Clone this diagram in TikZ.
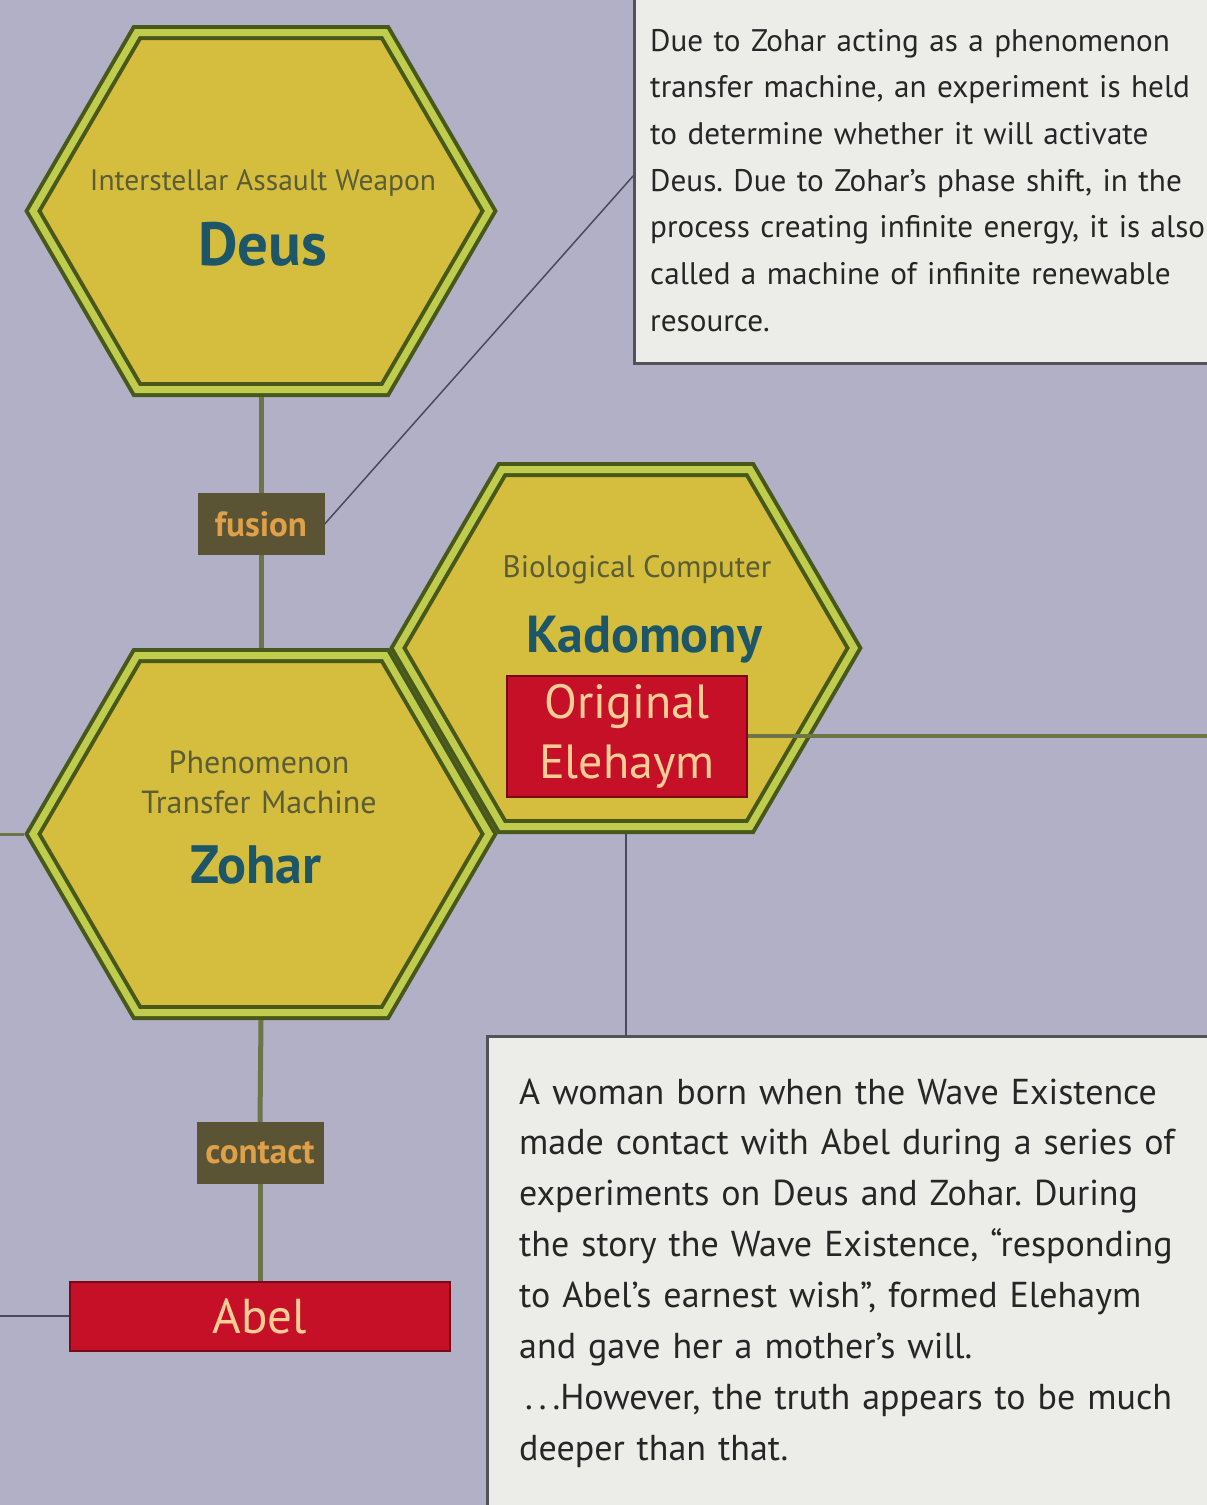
\documentclass[tikz,border=0pt]{standalone}
\usepackage{fontspec}
\setmainfont{PT Sans}
\usepackage{tikz}
\definecolor{bgpaper}{RGB}{178,176,198}
\definecolor{hexfill}{RGB}{213,190,62}
\definecolor{hexdark}{RGB}{72,88,26}
\definecolor{hexlight}{RGB}{192,204,78}
\definecolor{titleteal}{RGB}{28,86,104}
\definecolor{tagolive}{RGB}{92,92,54}
\definecolor{linkfill}{RGB}{90,84,52}
\definecolor{linktext}{RGB}{222,160,72}
\definecolor{namered}{RGB}{198,16,40}
\definecolor{nameedge}{RGB}{120,10,22}
\definecolor{nametext}{RGB}{255,206,150}
\definecolor{stem}{RGB}{108,116,72}
\definecolor{notepaper}{RGB}{236,236,232}
\definecolor{noteedge}{RGB}{82,82,88}
\definecolor{thinline}{RGB}{72,74,94}

\frenchspacing

\tikzset{
  hexa/.style={rectangle, minimum width=474pt, minimum height=372pt, inner sep=0pt, outer sep=0pt},
  hexline/.style={fill=hexfill, draw=hexdark, line width=4pt, double=hexlight, double distance=7pt},
  tag/.style={text=tagolive},
  title/.style={text=titleteal, font=\fontsize{52}{52}\selectfont\bfseries},
  linkbox/.style={fill=linkfill, text=linktext, minimum width=127pt, minimum height=62pt,
    font=\fontsize{35}{35}\selectfont\bfseries},
  namebox/.style={fill=namered, draw=nameedge, line width=2pt, text=nametext},
  notebox/.style={fill=notepaper, draw=noteedge, line width=3pt, outer sep=0pt},
  notetext/.style={text=black!85, align=left, inner sep=0pt},
  stemline/.style={draw=stem, line width=5pt},
}

% hexagon with a double border round a named node
\newcommand{\hexcell}[1]{%
  \draw[hexline] ([shift={(-228,0)}]#1.center) -- ([shift={(-124,-178.5)}]#1.center)
    -- ([shift={(124,-178.5)}]#1.center) -- ([shift={(228,0)}]#1.center)
    -- ([shift={(124,178.5)}]#1.center) -- ([shift={(-124,178.5)}]#1.center) -- cycle;}

\begin{document}
\begin{tikzpicture}[x=1pt, y=-1pt]
  \useasboundingbox (0,0) rectangle (1207,1505);
  \clip (0,0) rectangle (1207,1505);
  \fill[bgpaper] (0,0) rectangle (1207,1505);
  \coordinate (leftedge) at (0,0);
  \coordinate (rightedge) at (1207,0);

  % note boxes
  \node[notebox, minimum width=800pt, minimum height=376pt, anchor=south west] (upperbox) at (634,363) {};
  \node[notebox, minimum width=800pt, minimum height=600pt, anchor=north west] (lowerbox) at (487,1036) {};

  % hexes
  \node[hexa] (deus) at (261,211) {};
  \hexcell{deus}
  \node[hexa] (zohar) at (261,834) {};
  \hexcell{zohar}
  \node[hexa] (kadomony) at (626,648) {};
  \hexcell{kadomony}

  \node[tag, anchor=base, font=\fontsize{29.5}{29.5}\selectfont] (deustag) at (263,190) {Interstellar Assault Weapon};
  \node[title, anchor=base, font=\fontsize{61}{61}\selectfont\bfseries] (deusname) at (263,265) {Deus};
  \node[tag, anchor=base, font=\fontsize{31}{31}\selectfont] (kadotag) at (637,577) {Biological Computer};
  \node[title, anchor=base] (kadoname) at (644,652) {Kadomony};
  \node[tag, anchor=base, align=center, text width=300pt, font=\fontsize{32}{40}\selectfont] (zohartag) at (259,773) {Phenomenon\\Transfer Machine};
  \node[title, anchor=base, font=\fontsize{54}{54}\selectfont\bfseries] (zoharname) at (256,883) {Zohar};

  % links
  \node[linkbox] (fusion) at (261,524) {fusion};
  \node[linkbox] (contact) at (260,1153) {contact};
  \node[namebox, minimum width=380pt, minimum height=69pt, font=\fontsize{49}{49}\selectfont] (abel) at (260,1316) {Abel};
  \node[namebox, minimum width=240pt, minimum height=121pt, align=center,
    font=\fontsize{48}{60}\selectfont] (elehaym) at (627,736) {Original\\Elehaym};

  \draw[stemline] (deus.south) -- (fusion.north);
  \draw[stemline] (fusion.south) -- (zohar.north);
  \draw[stemline] (zohar.south) -- (contact.north);
  \draw[stemline] (contact.south) -- (abel.north);
  \draw[stem, line width=3pt] (zohar.west) -- (zohar.west -| leftedge);
  \draw[thinline, line width=2pt] (abel.west) -- (abel.west -| leftedge);
  \draw[stem, line width=4pt] (elehaym.east) -- (elehaym.east -| rightedge);
  \draw[thinline, line width=1.5pt] (fusion.east) -- (upperbox.west);
  \draw[thinline, line width=2.5pt] (kadomony.south) -- (kadomony.south |- lowerbox.north);

  % note texts
  \node[notetext, anchor=base west, text width=620pt, font=\fontsize{31.2}{46.7}\selectfont] (uppertext) at (650,51)
    {Due to Zohar acting as a phenomenon\\
     transfer machine, an experiment is held\\
     to determine whether it will activate\\
     Deus. Due to Zohar’s phase shift, in the\\
     process creating infinite energy, it is also\\
     called a machine of infinite renewable\\
     resource.};
  \node[notetext, anchor=base west, text width=700pt, font=\fontsize{36}{50.9}\selectfont] (lowertext) at (519,1104)
    {A woman born when the Wave Existence\\
     made contact with Abel during a series of\\
     experiments on Deus and Zohar. During\\
     the story the Wave Existence, “responding\\
     to Abel’s earnest wish”, formed Elehaym\\
     and gave her a mother’s will.\\
     \,.\,.\,.However, the truth appears to be much\\
     deeper than that.};
\end{tikzpicture}
\end{document}
